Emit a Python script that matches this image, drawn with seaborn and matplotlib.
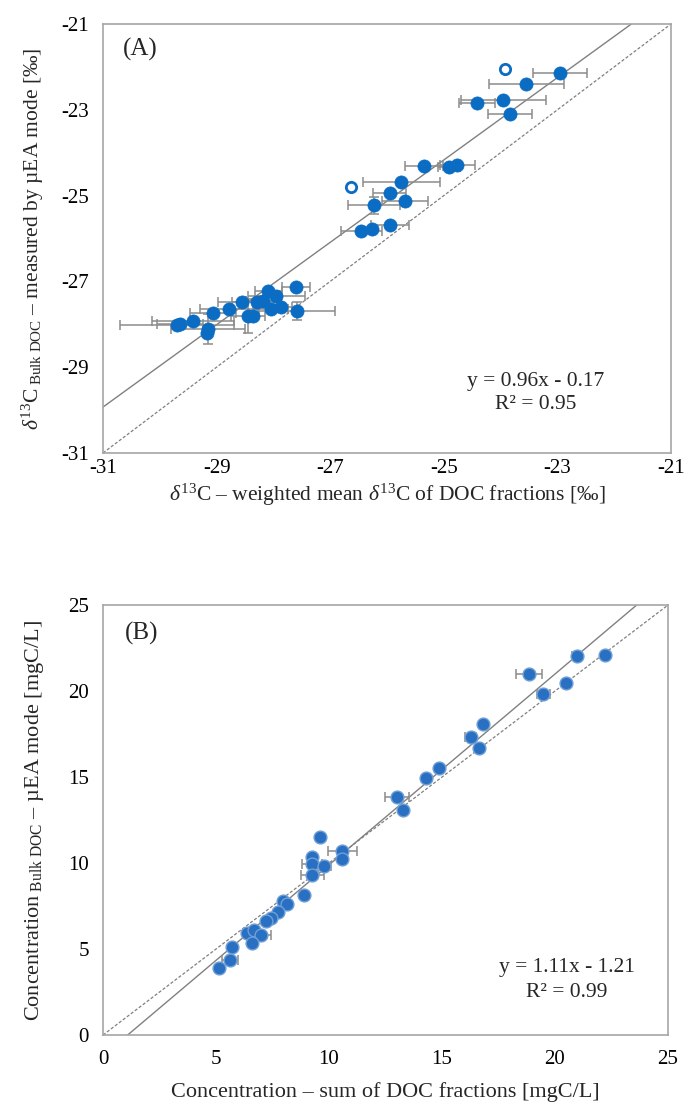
import numpy as np
import pandas as pd
import matplotlib
matplotlib.use("Agg")
import matplotlib.pyplot as plt
import seaborn as sns

# ---------------- Panel A: delta13C (per mil) ----------------
# weighted mean d13C of DOC fractions (x) vs bulk DOC measured by µEA (y)
a_frac = [-22.95, -23.55, -24.42, -23.95, -23.84,
          -25.35, -24.91, -24.76, -25.75, -25.95, -25.68, -26.23,
          -26.45, -26.27, -25.95,
          -27.60, -28.09, -27.95, -28.56, -28.29, -28.19, -28.78, -29.06,
          -28.05, -27.87, -27.59, -28.44, -28.35, -29.41, -29.70, -29.64,
          -29.15, -29.16]
a_bulk = [-22.15, -22.40, -22.85, -22.77, -23.10,
          -24.31, -24.33, -24.29, -24.68, -24.95, -25.13, -25.23,
          -25.82, -25.78, -25.69,
          -27.12, -27.22, -27.33, -27.49, -27.49, -27.46, -27.64, -27.74,
          -27.65, -27.59, -27.68, -27.81, -27.81, -27.92, -28.02, -28.00,
          -28.12, -28.21]
a_frac_sd = [0.48, 0.66, 0.32, 0.75, 0.39,
             0.33, 0.20, 0.31, 0.68, 0.29, 0.40, 0.46,
             0.36, 0.00, 0.34,
             0.25, 0.24, 0.50, 0.41, 0.43, 0.30, 0.52, 0.41,
             0.30, 0.20, 0.68, 0.30, 0.00, 0.72, 1.00, 0.40,
             0.65, 0.00]
a_bulk_sd = [0.0, 0.0, 0.0, 0.0, 0.0,
             0.0, 0.0, 0.0, 0.0, 0.0, 0.0, 0.20,
             0.0, 0.0, 0.0,
             0.0, 0.0, 0.0, 0.0, 0.0, 0.0, 0.0, 0.0,
             0.0, 0.0, 0.21, 0.40, 0.0, 0.0, 0.0, 0.0,
             0.35, 0.0]
# samples excluded from the regression
a_open_frac = [-23.92, -26.64]
a_open_bulk = [-22.06, -24.79]
a_slope, a_icpt, a_r2 = 0.96, -0.17, 0.95
a_ticks = [-31, -29, -27, -25, -23, -21]

# ---------------- Panel B: concentration (mgC/L) ----------------
b_frac = [20.96, 22.23, 18.84, 20.47, 19.49, 16.82, 16.27, 16.66, 14.86,
          14.31, 13.00, 13.26, 9.60, 10.59, 10.59, 9.26, 9.26, 9.78, 9.26,
          8.89, 7.98, 8.13, 7.73, 7.42, 7.20, 6.36, 6.68, 6.99, 6.58, 5.69,
          5.62, 5.15]
b_bulk = [22.03, 22.09, 20.97, 20.48, 19.83, 18.08, 17.34, 16.67, 15.51,
          14.92, 13.82, 13.08, 11.49, 10.72, 10.21, 10.37, 9.94, 9.83, 9.30,
          8.14, 7.81, 7.60, 7.17, 6.78, 6.63, 5.95, 6.10, 5.81, 5.33, 5.14,
          4.36, 3.91]
b_frac_sd = [0.20, 0.00, 0.57, 0.00, 0.30, 0.00, 0.25, 0.15, 0.00,
             0.00, 0.52, 0.00, 0.00, 0.64, 0.00, 0.00, 0.45, 0.30, 0.50,
             0.15, 0.00, 0.00, 0.00, 0.00, 0.00, 0.00, 0.00, 0.44, 0.00, 0.00,
             0.35, 0.00]
b_slope, b_icpt, b_r2 = 1.11, -1.21, 0.99
b_ticks = [0, 5, 10, 15, 20, 25]

sns.set_theme(style="white")
plt.rcParams["font.family"] = ["Liberation Serif", "DejaVu Serif"]
plt.rcParams["mathtext.fontset"] = "custom"
plt.rcParams["mathtext.rm"] = "Liberation Serif"
plt.rcParams["mathtext.it"] = "Liberation Serif:italic"
plt.rcParams["mathtext.bf"] = "Liberation Serif:bold"
plt.rcParams["axes.unicode_minus"] = False

BLUE = "#0a6cc2"
GREY = "#8c8c8c"
FRAME = "#a6a6a6"

fig = plt.figure(figsize=(6.86, 11.07), dpi=100)
axA = fig.add_axes([0.1501, 0.5908, 0.8280, 0.3875])
axB = fig.add_axes([0.1501, 0.0650, 0.8236, 0.3884])


def style_axes(ax, ticks, xpad, ypad):
    ax.set_xlim(ticks[0], ticks[-1])
    ax.set_ylim(ticks[0], ticks[-1])
    ax.set_xticks(ticks)
    ax.set_yticks(ticks)
    for sp in ax.spines.values():
        sp.set_color(FRAME)
        sp.set_linewidth(1.2)
    ax.tick_params(direction="in", length=5, width=1, color=FRAME,
                   labelsize=15, labelcolor="black")
    ax.tick_params(axis="x", pad=xpad)
    ax.tick_params(axis="y", pad=ypad)


def fit_lines(ax, slope, icpt, ticks):
    xs = np.array([ticks[0], ticks[-1]], dtype=float)
    ax.plot(xs, slope * xs + icpt, color="#808080", lw=1.0, zorder=1)
    ax.plot(xs, xs, color="#808080", lw=0.9, ls=(0, (2.5, 1.5)), zorder=1)


# ---- Panel A ----
style_axes(axA, a_ticks, 4, 10)
fit_lines(axA, a_slope, a_icpt, a_ticks)
axA.errorbar(a_frac, a_bulk, xerr=a_frac_sd, yerr=a_bulk_sd, fmt="none",
             ecolor=GREY, elinewidth=1.1, capsize=3.5, capthick=1.1, zorder=2)
dfA = pd.DataFrame({"frac": a_frac, "bulk": a_bulk})
sns.scatterplot(data=dfA, x="frac", y="bulk", ax=axA, s=90, color=BLUE,
                edgecolor=BLUE, linewidth=0.5, zorder=3, legend=False)
dfA_open = pd.DataFrame({"frac": a_open_frac, "bulk": a_open_bulk})
sns.scatterplot(data=dfA_open, x="frac", y="bulk", ax=axA, s=55,
                color="white", edgecolor=BLUE, linewidth=2, zorder=3,
                legend=False)
axA.set_xlabel(r"$\delta^{13}$C – weighted mean $\delta^{13}$C of DOC fractions [‰]",
               fontsize=15.5)
axA.set_ylabel(r"$\delta^{13}$C$_{\mathrm{\ Bulk\ DOC}}$ – measured by µEA mode [‰]",
               fontsize=15.5)
axA.xaxis.set_label_coords(0.5, -0.068)
axA.yaxis.set_label_coords(-0.10, 0.5)
axA.text(0.035, 0.94, "(A)", transform=axA.transAxes, fontsize=18,
         ha="left", va="center")
axA.text(0.762, 0.166, f"y = {a_slope:.2f}x - {abs(a_icpt):.2f}",
         transform=axA.transAxes, fontsize=15.5, ha="center", va="center")
axA.text(0.762, 0.112, f"R² = {a_r2:.2f}", transform=axA.transAxes,
         fontsize=15.5, ha="center", va="center")

# ---- Panel B ----
style_axes(axB, b_ticks, 11, 10)
fit_lines(axB, b_slope, b_icpt, b_ticks)
axB.errorbar(b_frac, b_bulk, xerr=b_frac_sd, fmt="none", ecolor=GREY,
             elinewidth=1.1, capsize=3.5, capthick=1.1, zorder=2)
dfB = pd.DataFrame({"frac": b_frac, "bulk": b_bulk})
sns.scatterplot(data=dfB, x="frac", y="bulk", ax=axB, s=85, color="#2a70c2",
                edgecolor="#6f9fd6", linewidth=1.0, zorder=3, legend=False)
axB.set_xlabel("Concentration – sum of DOC fractions [mgC/L]", fontsize=16)
axB.set_ylabel(r"Concentration$_{\mathrm{\ Bulk\ DOC}}$ – µEA mode [mgC/L]",
               fontsize=16)
axB.xaxis.set_label_coords(0.5, -0.11)
axB.yaxis.set_label_coords(-0.10, 0.5)
axB.text(0.039, 0.935, "(B)", transform=axB.transAxes, fontsize=18,
         ha="left", va="center")
axB.text(0.821, 0.158, f"y = {b_slope:.2f}x - {abs(b_icpt):.2f}",
         transform=axB.transAxes, fontsize=15.5, ha="center", va="center")
axB.text(0.821, 0.098, f"R² = {b_r2:.2f}", transform=axB.transAxes,
         fontsize=15.5, ha="center", va="center")

fig.savefig("out.png", dpi=100, facecolor="white")
